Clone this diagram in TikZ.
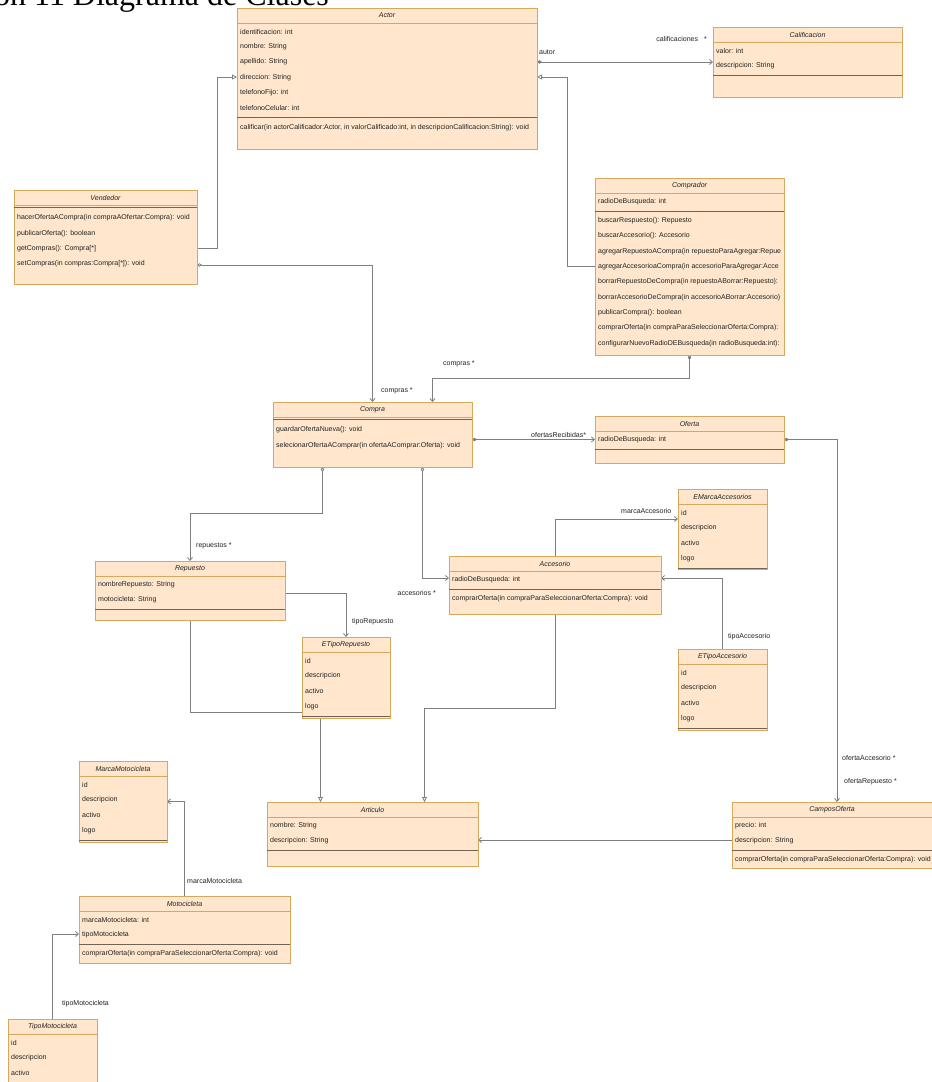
\documentclass[tikz,border=0pt]{standalone}
\usepackage{fontspec}
\setmainfont{Liberation Sans}
\newfontfamily\titlefont{Liberation Serif}
\usetikzlibrary{positioning,arrows.meta,backgrounds}
\definecolor{classfill}{HTML}{FFE6CC}
\definecolor{classborder}{HTML}{D6A85C}
\definecolor{sepgray}{HTML}{6F6455}
\definecolor{wiregray}{HTML}{7F7F7F}
\definecolor{ink}{HTML}{222222}
\newcommand{\umlfont}{\fontsize{7.0}{8.4}\selectfont}
\newcommand{\umlclass}[8]{%
  \node[classbox,minimum width=#4pt,minimum height=#5pt] (#1) at (#2,#3) {};
  \node[classname] (#1-name) at ([yshift=-7.5pt]#1.north) {#6};
  \draw[headline] ([yshift=-15pt]#1.north west) -- ([yshift=-15pt]#1.north east);
  \def\umlattrs{#7}\def\umlmeths{#8}%
  \begin{scope}
    \clip (#1.north west) rectangle (#1.south east);
    \ifx\umlattrs\empty
      \gdef\umlsep{17}\gdef\umlfirst{28}%
    \else
      \foreach \umlitem [count=\umlk] in {#7} {%
        \node[member] at ([yshift={-23.5pt-15.3pt*(\umlk-1)}]#1.north west) {\umlitem};
        \xdef\umlcount{\umlk}}%
      \pgfmathsetmacro\umlsep{18+15.3*\umlcount}\global\let\umlsep\umlsep
      \pgfmathsetmacro\umlfirst{\umlsep+9.5}\global\let\umlfirst\umlfirst
    \fi
    \ifx\umlmeths\empty\else
      \foreach \umlitem [count=\umlk] in {#8} {%
        \node[member] at ([yshift={-1pt*\umlfirst-15.3pt*(\umlk-1)}]#1.north west) {\umlitem};}%
    \fi
  \end{scope}
  \draw[sepline] ([yshift={-1pt*\umlsep}]#1.north west) -- ([yshift={-1pt*\umlsep}]#1.north east);
}

\begin{document}
\begin{tikzpicture}[x=1pt,y=-1pt,
  classbox/.style={draw=classborder,fill=classfill,line width=0.6pt,anchor=north west,inner sep=0pt,outer sep=0pt},
  classname/.style={font=\itshape\umlfont,text=ink,inner sep=0pt},
  member/.style={font=\umlfont,text=ink,anchor=west,inner sep=0pt,xshift=3pt},
  headline/.style={draw=classborder,line width=0.6pt},
  sepline/.style={draw=sepgray,line width=1pt},
  wire/.style={draw=wiregray,line width=0.8pt},
  navigates/.style={-{Straight Barb[length=3pt,width=5pt]}},
  composes/.style={{Diamond[length=5pt,width=3.5pt]}-{Straight Barb[length=3pt,width=5pt]}},
  aggregates/.style={{Diamond[open,length=5pt,width=3.5pt]}-{Straight Barb[length=3pt,width=5pt]}},
  generalizes/.style={-{Triangle[open,length=5pt,width=5pt]}},
  lbl/.style={font=\umlfont,text=ink,inner sep=0pt}
]
\useasboundingbox (0,0) rectangle (932,1082);
\node[anchor=base west,inner sep=0pt,font=\titlefont\fontsize{32}{32}\selectfont] (title) at (-6,5) {on 11 Diagrama de Clases};

\umlclass{Actor}{237}{8}{300}{141}{Actor}{identificacion: int,nombre: String,apellido: String,direccion: String,telefonoFijo: int,telefonoCelular: int}{{calificar(in actorCalificador:Actor, in valorCalificado:int, in descripcionCalificacion:String): void}}
\umlclass{Calificacion}{713}{27}{189}{70}{Calificacion}{valor: int,descripcion: String}{}
\umlclass{Vendedor}{14}{190}{183}{94}{Vendedor}{}{hacerOfertaACompra(in compraAOfertar:Compra): void,publicarOferta(): boolean,getCompras(): Compra[*],setCompras(in compras:Compra[*]): void}
\umlclass{Comprador}{595}{178}{189}{177}{Comprador}{radioDeBusqueda: int}{buscarRespuesto(): Repuesto,buscarAccesorio(): Accesorio,agregarRepuestoACompra(in repuestoParaAgregar:Repue,agregarAccesorioaCompra(in accesorioParaAgregar:Acce,borrarRepuestoDeCompra(in repuestoABorrar:Repuesto):,borrarAccesorioDeCompra(in accesorioABorrar:Accesorio),publicarCompra(): boolean,comprarOferta(in compraParaSeleccionarOferta:Compra):,configurarNuevoRadioDEBusqueda(in radioBusqueda:int):}
\umlclass{Compra}{273}{402}{199}{65}{Compra}{}{guardarOfertaNueva(): void,selecionarOfertaAComprar(in ofertaAComprar:Oferta): void}
\umlclass{Oferta}{595}{416}{189}{47}{Oferta}{radioDeBusqueda: int}{}
\umlclass{Repuesto}{95}{561}{190}{59}{Repuesto}{nombreRepuesto: String,motocicleta: String}{}
\umlclass{ETipoRepuesto}{302}{637}{88}{81}{ETipoRepuesto}{id,descripcion,activo,logo}{}
\umlclass{Accesorio}{449}{556}{212}{58}{Accesorio}{radioDeBusqueda: int}{comprarOferta(in compraParaSeleccionarOferta:Compra): void}
\umlclass{EMarcaAccesorios}{678}{489}{89}{80}{EMarcaAccesorios}{id,descripcion,activo,logo}{}
\umlclass{ETipoAccesorio}{678}{649}{89}{81}{ETipoAccesorio}{id,descripcion,activo,logo}{}
\umlclass{Articulo}{267}{802}{211}{64}{Articulo}{nombre: String,descripcion: String}{}
\umlclass{CamposOferta}{732}{802}{200}{66}{CamposOferta}{precio: int,descripcion: String}{comprarOferta(in compraParaSeleccionarOferta:Compra): void}
\umlclass{MarcaMotocicleta}{79}{761}{88}{81}{MarcaMotocicleta}{id,descripcion,activo,logo}{}
\umlclass{Motocicleta}{79}{896}{211}{67}{Motocicleta}{marcaMotocicleta: int,tipoMotocicleta}{comprarOferta(in compraParaSeleccionarOferta:Compra): void}
\umlclass{TipoMotocicleta}{8}{1019}{89}{81}{TipoMotocicleta}{id,descripcion,activo}{}

\begin{scope}[on background layer]
\fill[white] (0,0) rectangle (932,1082);
\draw[wire,composes] (Actor.east |- Calificacion.west) -- (Calificacion.west);
\draw[wire,generalizes] (Comprador.west) -- ++(-28,0) |- ([yshift=-69pt]Actor.north east);
\draw[wire,generalizes] ([yshift=-58pt]Vendedor.north east) -- ++(20,0) |- ([yshift=-69pt]Actor.north west);
\draw[wire,aggregates] ([yshift=-75pt]Vendedor.north east) -| (Compra.north);
\draw[wire,composes] (Comprador.south) -- ++(0,23) -| ([xshift=60pt]Compra.north);
\draw[wire,composes] (Compra.east |- Oferta.west) -- (Oferta.west);
\draw[wire,composes] (Oferta.east) -| ([xshift=5pt]CamposOferta.north);
\draw[wire,aggregates] ([xshift=-50pt]Compra.south) -- ++(0,46) -| (Repuesto.north);
\draw[wire,aggregates] ([xshift=50pt]Compra.south) |- ([yshift=-22pt]Accesorio.north west);
\draw[wire,navigates] ([yshift=-32pt]Repuesto.north east) -| (ETipoRepuesto.north);
\draw[wire,navigates] (Accesorio.north) |- ([yshift=-30pt]EMarcaAccesorios.north west);
\draw[wire,navigates] (ETipoAccesorio.north) |- ([yshift=-22pt]Accesorio.north east);
\draw[wire,generalizes] (Repuesto.south) -- ++(0,92) -| ([xshift=-52pt]Articulo.north);
\draw[wire,generalizes] (Accesorio.south) -- ++(0,94) -| ([xshift=52pt]Articulo.north);
\draw[wire,navigates] ([yshift=-38pt]CamposOferta.north west) -- ([yshift=-38pt]Articulo.north east);
\draw[wire,navigates] (Motocicleta.north) |- (MarcaMotocicleta.east);
\draw[wire,navigates] (TipoMotocicleta.north) |- ([yshift=-38pt]Motocicleta.north west);
\end{scope}

\node[lbl,anchor=west] (l-autor) at (539,52) {autor};
\node[lbl,anchor=east] (l-calificaciones) at (707,39) {calificaciones\hspace{6pt}*};
\node[lbl,anchor=west] (l-compras-v) at (381,391) {compras *};
\node[lbl,anchor=west] (l-compras-c) at (443,364) {compras *};
\node[lbl,anchor=west] (l-ofertas) at (531,435) {ofertasRecibidas*};
\node[lbl,anchor=west] (l-repuestos) at (196,546) {repuestos *};
\node[lbl,anchor=west] (l-tiporepuesto) at (352,622) {tipoRepuesto};
\node[lbl,anchor=east] (l-accesorios) at (436,593) {accesorios *};
\node[lbl,anchor=west] (l-marcaacc) at (621,511) {marcaAccesorio};
\node[lbl,anchor=west] (l-tipoacc) at (728,637) {tipoAccesorio};
\node[lbl,anchor=west] (l-ofertaacc) at (842,758) {ofertaAccesorio *};
\node[lbl,anchor=west] (l-ofertarep) at (844,782) {ofertaRepuesto *};
\node[lbl,anchor=west] (l-marcamoto) at (187,881) {marcaMotocicleta};
\node[lbl,anchor=west] (l-tipomoto) at (62,1004) {tipoMotocicleta};
\end{tikzpicture}
\end{document}
